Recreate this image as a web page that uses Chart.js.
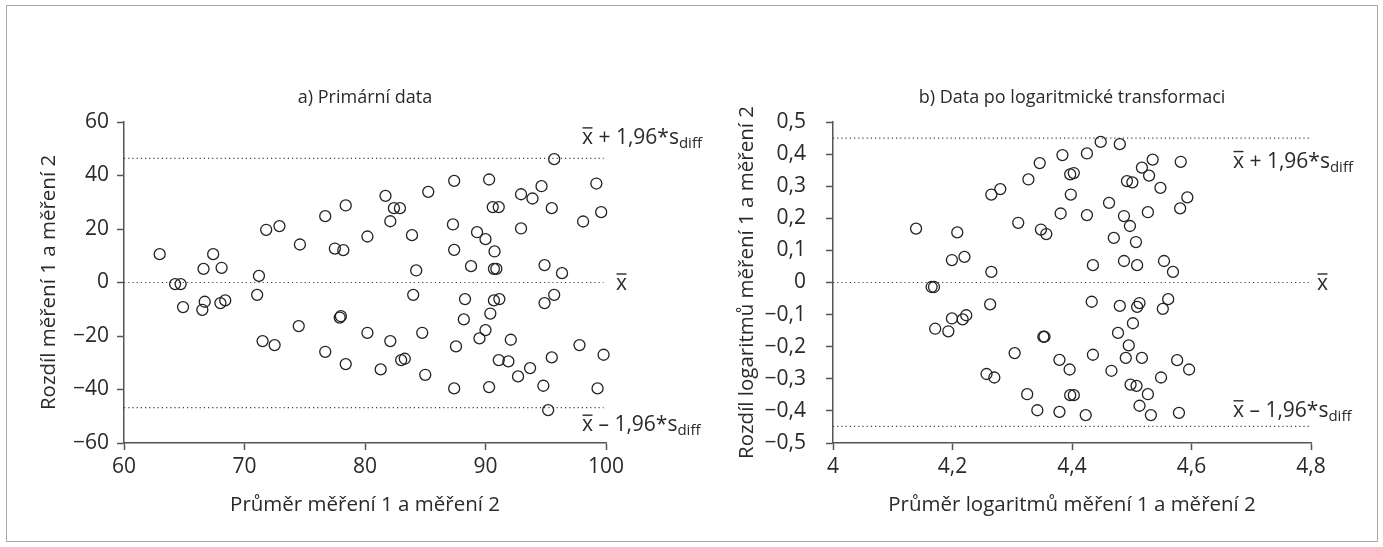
<!DOCTYPE html>
<html>
<head>
<meta charset="utf-8">
<script src="https://cdn.jsdelivr.net/npm/chart.js@4.4.1/dist/chart.umd.min.js"></script>
<style>
  body { margin: 0; background: #fff; }
  #frame { position: absolute; left: 6px; top: 5px; width: 1370px; height: 535px; border: 1px solid #aaa; }
  canvas { position: absolute; top: 0; }
  #chartA { left: 0; }
  #chartB { left: 700px; }
</style>
</head>
<body>
<div id="frame"></div>
<canvas id="chartA" width="720" height="547"></canvas>
<canvas id="chartB" width="683" height="547"></canvas>
<script>
// a) Primární data
const aMean = [62.96, 64.24, 64.7, 64.9, 66.6, 67.4, 68.1, 66.7, 66.5, 68.0, 68.4, 71.2, 71.05, 71.8, 72.9, 74.6,
    71.5, 72.5, 74.5, 76.7, 78.4, 77.5, 78.2, 77.9, 78.0, 76.7, 78.4, 95.7, 87.4, 90.3, 81.7, 85.25, 82.4, 82.9,
    82.1, 80.2, 83.9, 84.25, 87.3, 87.4, 89.3, 90.0, 90.75, 88.8, 90.7, 90.9, 90.6, 91.1, 92.95, 93.9, 94.65, 95.5,
    92.95, 99.2, 99.6, 98.1, 94.9, 96.35, 84.0, 88.3, 90.7, 91.15, 90.4, 88.2, 90.0, 89.5, 92.1, 94.9, 95.7, 80.2,
    82.1, 84.75, 87.55, 81.3, 83.0, 83.3, 85.0, 87.4, 90.3, 91.1, 91.9, 92.7, 93.7, 95.5, 94.8, 95.2, 97.8, 99.8, 99.3];
const aDiff = [10.6, -0.6, -0.6, -9.2, 5.1, 10.6, 5.5, -7.2, -10.2, -7.7, -6.7, 2.5, -4.6, 19.7, 21.1, 14.2,
    -21.9, -23.4, -16.3, 24.8, 28.8, 12.7, 12.1, -13.1, -12.6, -25.9, -30.5, 46.1, 38.0, 38.5, 32.4, 33.9, 27.8, 27.8,
    22.9, 17.2, 17.7, 4.5, 21.7, 12.2, 18.8, 16.2, 11.6, 6.1, 5.1, 5.1, 28.2, 28.2, 33.0, 31.4, 36.0, 27.8,
    20.2, 37.0, 26.3, 22.8, 6.5, 3.5, -4.6, -6.2, -6.7, -6.2, -11.6, -13.8, -17.8, -20.9, -21.4, -7.7, -4.6, -18.8,
    -21.9, -18.8, -23.9, -32.5, -29.0, -28.5, -34.5, -39.6, -39.1, -29.0, -29.5, -35.1, -32.0, -28.0, -38.6, -47.7, -23.4, -27.0, -39.6];
const aLimits = { mean: 0, upper: 46.4, lower: -46.8 };
const aLineX = [60, 99.8];

// b) Data po logaritmické transformaci
const bMean = [4.139, 4.208, 4.199, 4.220, 4.265, 4.265, 4.280, 4.310, 4.327, 4.346, 4.384, 4.348, 4.357, 4.381,
    4.397, 4.403, 4.398, 4.165, 4.169, 4.263, 4.199, 4.217, 4.223, 4.171, 4.193, 4.352, 4.354, 4.304, 4.379, 4.396,
    4.257, 4.270, 4.325, 4.342, 4.379, 4.397, 4.403, 4.425, 4.448, 4.480, 4.425, 4.462, 4.487, 4.497, 4.470, 4.507,
    4.435, 4.487, 4.509, 4.554, 4.569, 4.492, 4.501, 4.517, 4.535, 4.529, 4.548, 4.527, 4.582, 4.593, 4.581, 4.433,
    4.480, 4.513, 4.509, 4.561, 4.552, 4.502, 4.477, 4.495, 4.435, 4.490, 4.517, 4.466, 4.576, 4.596, 4.549, 4.498,
    4.508, 4.527, 4.513, 4.532, 4.579, 4.423];
const bDiff = [0.168, 0.156, 0.070, 0.080, 0.033, 0.274, 0.291, 0.186, 0.321, 0.372, 0.397, 0.165, 0.151, 0.215,
    0.337, 0.341, 0.274, -0.014, -0.014, -0.068, -0.112, -0.115, -0.102, -0.144, -0.152, -0.169, -0.169, -0.220, -0.241, -0.271,
    -0.285, -0.296, -0.348, -0.398, -0.403, -0.351, -0.351, 0.402, 0.438, 0.431, 0.210, 0.248, 0.207, 0.176, 0.139, 0.126,
    0.054, 0.067, 0.054, 0.067, 0.033, 0.316, 0.312, 0.358, 0.383, 0.333, 0.295, 0.219, 0.376, 0.265, 0.231, -0.060,
    -0.073, -0.064, -0.076, -0.052, -0.082, -0.127, -0.157, -0.196, -0.225, -0.235, -0.235, -0.275, -0.242, -0.271, -0.296, -0.318,
    -0.322, -0.348, -0.384, -0.413, -0.406, -0.413];
const bLimits = { mean: 0, upper: 0.45, lower: -0.448 };
const bLineX = [4, 4.8];

const FONT = '"Open Sans", "Noto Sans", sans-serif';
const TXT = '#2a2a2a';

function fmt(v) {
    let s = String(Math.round(v * 100) / 100).replace('.', ',');
    if (s[0] === '-') s = '\u2212' + s.slice(1);
    return s;
}

function pts(xs, ys) { return xs.map((x, i) => ({ x: x, y: ys[i] })); }

function limitLine(xr, v) {
    return {
        type: 'line', data: [{ x: xr[0], y: v }, { x: xr[1], y: v }], showLine: true,
        borderColor: '#444', borderWidth: 1.2, borderDash: [1.2, 3], pointRadius: 0, fill: false
    };
}

// x̄ with overline, then rest of text, then "diff" subscript
function drawXbar(ctx, x, mid, rest, sub) {
    const base = mid + 7.5;
    ctx.font = '21px ' + FONT;
    ctx.fillStyle = TXT;
    ctx.strokeStyle = TXT;
    ctx.textAlign = 'left';
    ctx.textBaseline = 'alphabetic';
    ctx.fillText('x', x, base);
    const wx = ctx.measureText('x').width;
    ctx.lineWidth = 1.4;
    ctx.beginPath();
    ctx.moveTo(x + 0.5, base - 16);
    ctx.lineTo(x + wx - 0.5, base - 16);
    ctx.stroke();
    if (!rest) return;
    ctx.fillText(rest, x + wx, base);
    const wr = ctx.measureText(rest).width;
    ctx.font = '15px ' + FONT;
    ctx.fillText(sub, x + wx + wr, base + 4);
}

function labelPlugin(lim, cfg) {
    return {
        id: 'limitLabels',
        afterDraw(chart) {
            const ctx = chart.ctx, y = chart.scales.y, area = chart.chartArea;
            ctx.save();
            drawXbar(ctx, area.right + cfg.meanDx, y.getPixelForValue(lim.mean), null);
            drawXbar(ctx, area.right - cfg.labelDx, y.getPixelForValue(lim.upper) + cfg.upDy, ' + 1,96*s', 'diff');
            drawXbar(ctx, area.right - cfg.labelDx, y.getPixelForValue(lim.lower) + cfg.lowDy, ' \u2013 1,96*s', 'diff');
            ctx.restore();
        }
    };
}

function makeChart(id, o) {
    const axisCommon = {
        border: { display: true, color: '#555', width: 1.5 },
        grid: { display: true, drawOnChartArea: false, drawTicks: true, tickLength: 7, color: '#555', tickWidth: 1.5 }
    };
    new Chart(document.getElementById(id), {
        type: 'scatter',
        data: {
            datasets: [
                {
                    data: pts(o.xs, o.ys), pointStyle: 'circle', pointRadius: 5.5, pointHoverRadius: 5.5,
                    backgroundColor: 'rgba(0,0,0,0)', borderColor: '#222', borderWidth: 1.3, clip: 10
                },
                limitLine(o.lineX, o.lim.mean),
                limitLine(o.lineX, o.lim.upper),
                limitLine(o.lineX, o.lim.lower)
            ]
        },
        options: {
            responsive: false,
            animation: false,
            layout: { padding: { left: 0, right: o.padRight, top: 0, bottom: 0 } },
            plugins: {
                legend: { display: false },
                tooltip: { enabled: false },
                title: {
                    display: true, text: o.title, color: TXT, fullSize: false,
                    font: { family: FONT, size: 18, weight: 'normal' },
                    padding: { top: 87, bottom: 13.4 }
                }
            },
            scales: {
                x: Object.assign({}, axisCommon, {
                    type: 'linear', min: o.xMin, max: o.xMax,
                    afterFit(s) { s.height = 104; },
                    ticks: { stepSize: o.xStep, color: TXT, padding: 4, font: { family: FONT, size: 21 }, callback: fmt },
                    title: { display: true, text: o.xTitle, color: TXT, font: { family: FONT, size: 20.5 }, padding: { top: 0, bottom: 30 } }
                }),
                y: Object.assign({}, axisCommon, {
                    type: 'linear', min: o.yMin, max: o.yMax,
                    afterFit(s) { s.width = o.yWidth; },
                    ticks: { stepSize: o.yStep, color: TXT, padding: o.yPad, font: { family: FONT, size: 21 }, callback: fmt },
                    title: { display: true, text: o.yTitle, color: TXT, font: { family: FONT, size: 20.5 }, padding: { top: o.yTitlePad, bottom: 0 } }
                })
            }
        },
        plugins: [labelPlugin(o.lim, o.labels)]
    });
}

makeChart('chartA', {
    xs: aMean, ys: aDiff, lim: aLimits, lineX: aLineX,
    title: 'a) Primární data',
    xTitle: 'Průměr měření 1 a měření 2',
    yTitle: 'Rozdíl měření 1 a měření 2',
    xMin: 60, xMax: 100, xStep: 10, yMin: -60, yMax: 60, yStep: 20,
    padRight: 114, yWidth: 124, yPad: 8, yTitlePad: 37,
    labels: { meanDx: 10, labelDx: 24, upDy: -22, lowDy: 16 }
});

makeChart('chartB', {
    xs: bMean, ys: bDiff, lim: bLimits, lineX: bLineX,
    title: 'b) Data po logaritmické transformaci',
    xTitle: 'Průměr logaritmů měření 1 a měření 2',
    yTitle: 'Rozdíl logaritmů měření 1 a měření 2',
    xMin: 4, xMax: 4.8, xStep: 0.2, yMin: -0.5, yMax: 0.5, yStep: 0.1,
    padRight: 72, yWidth: 133, yPad: 20, yTitlePad: 35,
    labels: { meanDx: 6, labelDx: 78, upDy: 22, lowDy: -17 }
});
</script>
</body>
</html>
